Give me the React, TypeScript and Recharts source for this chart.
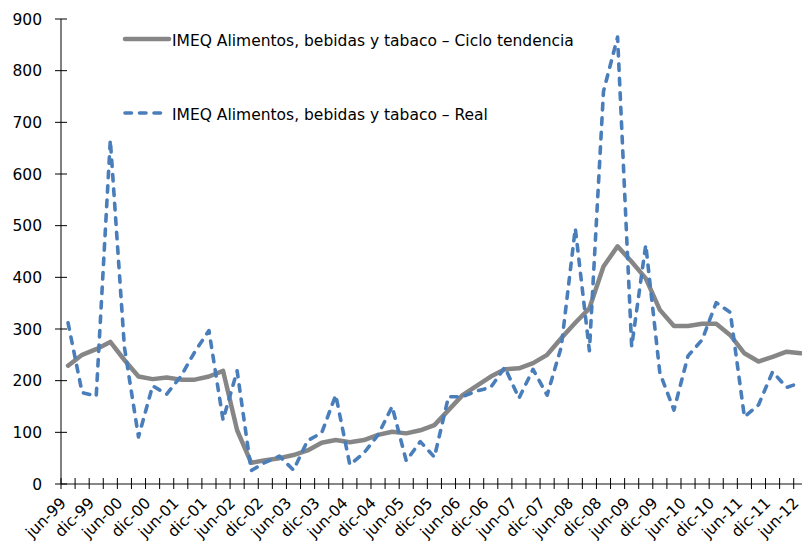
import { LineChart, Line, XAxis, YAxis, Legend } from "recharts";

/* ── Data (quarterly, jun-99 .. jun-12) ── */
const quarters = [
  "jun-99", "sep-99", "dic-99",
  "mar-00", "jun-00", "sep-00", "dic-00",
  "mar-01", "jun-01", "sep-01", "dic-01",
  "mar-02", "jun-02", "sep-02", "dic-02",
  "mar-03", "jun-03", "sep-03", "dic-03",
  "mar-04", "jun-04", "sep-04", "dic-04",
  "mar-05", "jun-05", "sep-05", "dic-05",
  "mar-06", "jun-06", "sep-06", "dic-06",
  "mar-07", "jun-07", "sep-07", "dic-07",
  "mar-08", "jun-08", "sep-08", "dic-08",
  "mar-09", "jun-09", "sep-09", "dic-09",
  "mar-10", "jun-10", "sep-10", "dic-10",
  "mar-11", "jun-11", "sep-11", "dic-11",
  "mar-12", "jun-12",
];

const cicloTendencia = [
  229, 250, 261, 275, 240, 208, 203, 206, 202, 202, 208, 219, 104, 41, 46, 50,
  56, 65, 80, 85, 81, 85, 95, 101, 98, 104, 114, 143, 172, 190, 208, 222, 224,
  234, 250, 282, 312, 340, 421, 460, 430, 398, 337, 306, 306, 310, 310, 288,
  253, 237, 246, 256, 253,
];

const real = [
  312, 177, 170, 666, 265, 91, 190, 174, 208, 256, 297, 124, 219, 26, 42, 54,
  27, 84, 99, 172, 37, 60, 95, 150, 45, 82, 52, 169, 169, 180, 187, 226, 166,
  222, 172, 265, 495, 258, 760, 865, 266, 463, 215, 143, 248, 279, 351, 332,
  130, 153, 217, 187, 196,
];

const yTicks = [0, 100, 200, 300, 400, 500, 600, 700, 800, 900];

const series = [
  { key: "tend", name: "IMEQ Alimentos, bebidas y tabaco \u2013 Ciclo tendencia", color: "#868686", width: 4.5, dash: undefined as string | undefined },
  { key: "real", name: "IMEQ Alimentos, bebidas y tabaco \u2013 Real", color: "#4a7ebb", width: 3.6, dash: "6.5 8" },
];

const data = quarters.map((q, i) => ({ q, tend: cicloTendencia[i], real: real[i] }));

/* ── Layout ── */
const CHART_W = 812;
const CHART_H = 549;
const Y_AXIS_W = 61;
const MARGIN_RIGHT = 4.2;
const PLOT_W = CHART_W - Y_AXIS_W - MARGIN_RIGHT;
const BAND = PLOT_W / quarters.length;
const FONT = "'DejaVu Sans', Verdana, sans-serif";
const FS = 15.5;

function XTick(props: any) {
  const { x, y, index, payload } = props;
  const bx = x - BAND / 2;
  const ax = x - 1;
  const ay = y + 20;
  return (
    <g>
      <line x1={bx} x2={bx} y1={y - 6} y2={y + 5} stroke="#000" strokeWidth={1} />
      {index % 2 === 0 && (
        <text
          x={ax}
          y={ay}
          transform={`rotate(-45, ${ax}, ${ay})`}
          textAnchor="end"
          fontFamily={FONT}
          fontSize={FS}
          fill="#000"
        >
          {payload.value}
        </text>
      )}
    </g>
  );
}

function YTick(props: any) {
  const { x, y, payload } = props;
  return (
    <g>
      <line x1={x - 6} x2={x + 6} y1={y} y2={y} stroke="#000" strokeWidth={1} />
      <text
        x={x - 19}
        y={y + 5.5}
        textAnchor="end"
        fontFamily={FONT}
        fontSize={FS}
        fill="#000"
      >
        {payload.value}
      </text>
    </g>
  );
}

function LegendBox(props: any) {
  const payload = props.payload || [];
  return (
    <svg width={520} height={110} style={{ display: "block" }}>
      {payload.map((p: any, i: number) => {
        const s = series.find((d) => d.key === p.dataKey) || series[i];
        const ly = 19 + i * 74;
        return (
          <g key={s.key}>
            <line
              x1={5}
              x2={s.dash ? 46 : 49}
              y1={ly}
              y2={ly}
              stroke={s.color}
              strokeWidth={s.width}
              strokeDasharray={s.dash}
              strokeLinecap="round"
            />
            <text x={52} y={ly + 6.5} fontFamily={FONT} fontSize={FS} fill="#000">
              {s.name}
            </text>
          </g>
        );
      })}
    </svg>
  );
}

export default function App() {
  return (
    <div
      style={{
        position: "absolute",
        left: 0,
        top: 0,
        width: 802,
        height: 549,
        overflow: "hidden",
        background: "#fff",
      }}
    >
      <LineChart
        width={CHART_W}
        height={CHART_H}
        data={data}
        margin={{ top: 19, right: MARGIN_RIGHT, left: 0, bottom: 0 }}
      >
        <XAxis
          dataKey="q"
          interval={0}
          height={65}
          padding={{ left: BAND / 2, right: BAND / 2 }}
          axisLine={{ stroke: "#868686", strokeWidth: 2 }}
          tickLine={false}
          tickSize={0}
          tickMargin={0}
          tick={<XTick />}
        />
        <YAxis
          width={Y_AXIS_W}
          domain={[0, 900]}
          ticks={yTicks}
          interval={0}
          axisLine={{ stroke: "#000", strokeWidth: 1 }}
          tickLine={false}
          tickSize={0}
          tickMargin={0}
          tick={<YTick />}
        />
        <Legend
          layout="horizontal"
          verticalAlign="middle"
          wrapperStyle={{ top: 20, left: 120, width: 520 }}
          content={<LegendBox />}
        />
        {series.map((s) => (
          <Line
            key={s.key}
            type="linear"
            dataKey={s.key}
            name={s.name}
            stroke={s.color}
            strokeWidth={s.width}
            strokeDasharray={s.dash}
            strokeLinecap="round"
            strokeLinejoin="round"
            dot={false}
            activeDot={false}
            isAnimationActive={false}
          />
        ))}
      </LineChart>
    </div>
  );
}
